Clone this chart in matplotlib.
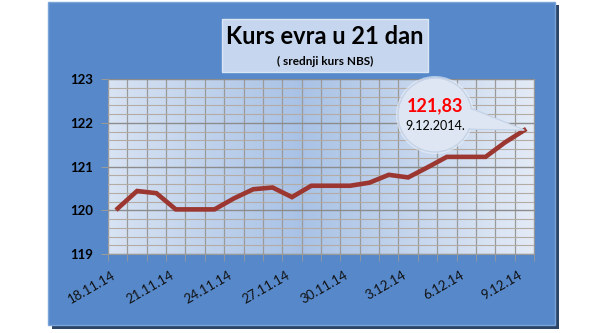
import matplotlib
matplotlib.use("Agg")
import matplotlib.pyplot as plt
import numpy as np
from matplotlib.patches import Rectangle, Circle, Polygon

plt.rcParams['font.family'] = ['Lato', 'DejaVu Sans']

dates = ["18.11.14", "19.11.14", "20.11.14", "21.11.14", "22.11.14", "23.11.14",
         "24.11.14", "25.11.14", "26.11.14", "27.11.14", "28.11.14", "29.11.14",
         "30.11.14", "1.12.14", "2.12.14", "3.12.14", "4.12.14", "5.12.14",
         "6.12.14", "7.12.14", "8.12.14", "9.12.14"]
values = [120.04, 120.44, 120.39, 120.02, 120.02, 120.02, 120.27, 120.48, 120.52,
          120.30, 120.56, 120.56, 120.56, 120.63, 120.81, 120.75, 120.98, 121.22,
          121.22, 121.22, 121.55, 121.83]
yticks = [119, 120, 121, 122, 123]
title = "Kurs evra u 21 dan"
subtitle = "( srednji kurs NBS)"
callout_value = "121,83"
callout_date = "9.12.2014."

W, H = 592, 333
fig = plt.figure(figsize=(W / 100, H / 100), dpi=100)
fig.patch.set_facecolor("white")

# background frame axes (pixel coords, y down)
bg = fig.add_axes([0, 0, 1, 1], zorder=0)
bg.set_xlim(0, W); bg.set_ylim(H, 0); bg.axis("off")
bg.add_patch(Rectangle((52, 5), 507, 324, facecolor="#2c4466", edgecolor="none"))
bg.add_patch(Rectangle((48, 2), 507, 323, facecolor="#5688ca", edgecolor="#7aa4d8", lw=1))
# title box
bg.add_patch(Rectangle((222, 19), 206, 53, facecolor="#c6d6ee", edgecolor="#dbe6f5", lw=1))
bg.text(325, 36, title, ha="center", va="center", fontsize=17, fontweight="bold", color="black")
bg.text(325, 61, subtitle, ha="center", va="center", fontsize=8.5, fontweight="bold", color="black")

# main axes
ax = fig.add_axes([108 / W, (H - 254) / H, 426 / W, 175 / H], zorder=1)
n = len(values)
x = np.arange(n)
ax.set_xlim(-0.5, n - 0.5)
ax.set_ylim(yticks[0], yticks[-1])

# gradient background
grad = np.linspace(0, 1, 256)
prof = 1 - np.abs(grad - 0.45) / 0.55
prof = np.clip(prof, 0, 1)
c_light = np.array([0.89, 0.92, 0.965])
c_dark = np.array([0.66, 0.76, 0.90])
img = c_light[None, :] * (1 - prof[:, None]) + c_dark[None, :] * prof[:, None]
img = img[None, :, :]
ax.imshow(img, extent=(-0.5, n - 0.5, yticks[0], yticks[-1]), aspect="auto", zorder=0)

ax.set_yticks(yticks)
ax.set_yticks(np.arange(yticks[0], yticks[-1] + 0.01, 0.2), minor=True)
ax.set_xticks(x[::3])
ax.set_xticklabels([dates[i] for i in range(0, n, 3)], rotation=30, ha="right",
                   fontsize=9.5, color="#111111")
ax.set_xticks(np.arange(-0.5, n, 1.0), minor=True)
ax.set_yticklabels([str(v) for v in yticks], fontsize=9.5, fontweight="bold")

ax.grid(True, which="major", axis="y", color="#8c8c8c", lw=1.0, zorder=1)
ax.grid(True, which="minor", axis="y", color="#b4aca4", lw=0.8, zorder=1)
ax.grid(True, which="minor", axis="x", color="#9a9a9a", lw=0.9, zorder=1)
ax.tick_params(axis="x", which="major", length=0, pad=11)
ax.tick_params(axis="x", which="minor", length=5, color="#9a9a9a")
ax.tick_params(axis="y", which="major", length=5, color="#9a9a9a", pad=6)
ax.tick_params(axis="y", which="minor", length=0)
for s in ax.spines.values():
    s.set_color("#9a9a9a")
ax.set_axisbelow(False)

ax.plot(x, values, color="#9b3631", lw=3.3, solid_joinstyle="miter", zorder=3)

# callout in front
fg = fig.add_axes([0, 0, 1, 1], zorder=2)
fg.set_xlim(0, W); fg.set_ylim(H, 0); fg.axis("off")
fig.canvas.draw()
tip_disp = ax.transData.transform((x[-1], values[-1]))
tip = fg.transData.inverted().transform(tip_disp)
cx, cy, r = 435, 115, 37
fg.add_patch(Circle((cx, cy), r + 2, facecolor="#eef3fa", edgecolor="none", alpha=0.6))
fg.add_patch(Polygon([(cx + 28, cy - 10), (tip[0], tip[1]), (cx + 26, cy + 14)],
                     facecolor="#dde6f2", edgecolor="#c5d3e8", lw=1))
fg.add_patch(Circle((cx, cy), r, facecolor="#dde6f2", edgecolor="#c5d3e8", lw=1))
fg.add_patch(Polygon([(cx + 27, cy - 9), (tip[0] - 3, tip[1] - 1), (cx + 25, cy + 13)],
                     facecolor="#dde6f2", edgecolor="none"))
fg.text(cx, cy - 9, callout_value, ha="center", va="center", fontsize=13,
        fontweight="bold", color="#ff0000")
fg.text(cx, cy + 11, callout_date, ha="center", va="center", fontsize=9, color="black")

fig.savefig("out.png", dpi=100)
